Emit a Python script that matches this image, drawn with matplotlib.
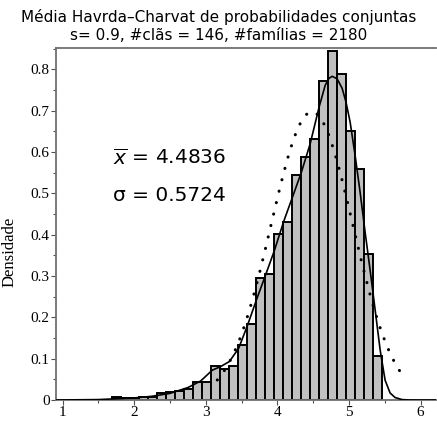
import numpy as np
import matplotlib
matplotlib.use("Agg")
import matplotlib.pyplot as plt
from matplotlib.ticker import MultipleLocator

# histogram: 30 bins of equal width between the first and last edge
bin_lo = 1.697
bin_hi = 5.463
dens = [0.008, 0.004, 0.004, 0.008, 0.008, 0.016, 0.020, 0.0225, 0.0266, 0.044,
        0.044, 0.082, 0.075, 0.082, 0.134, 0.184, 0.294, 0.305, 0.401, 0.4295,
        0.544, 0.587, 0.632, 0.771, 0.8435, 0.789, 0.650, 0.558, 0.353, 0.107]

# smoothed density (solid curve)
kx = [0.91, 1.5, 1.75, 2.0, 2.25, 2.5, 2.75, 2.93, 3.09, 3.21, 3.33, 3.46, 3.58,
      3.71, 3.835, 3.96, 4.087, 4.212, 4.338, 4.459, 4.584, 4.668, 4.72, 4.766,
      4.835, 4.905, 4.96, 5.017, 5.086, 5.156, 5.226, 5.296, 5.366, 5.436,
      5.505, 5.575, 5.644, 5.742, 5.85, 6.22]
ky = [0.0, 0.001, 0.003, 0.005, 0.009, 0.016, 0.030, 0.046, 0.072, 0.081, 0.093,
      0.125, 0.179, 0.243, 0.302, 0.362, 0.431, 0.491, 0.552, 0.620, 0.709,
      0.761, 0.778, 0.783, 0.777, 0.754, 0.720, 0.672, 0.592, 0.503, 0.406,
      0.314, 0.218, 0.121, 0.048, 0.017, 0.006, 0.001, 0.0, 0.0]

media = 4.4836
sigma = 0.5724
s_val = 0.9
n_clas = 146
n_fam = 2180

edges = np.linspace(bin_lo, bin_hi, len(dens) + 1)
width = edges[1] - edges[0]

fig = plt.figure(figsize=(4.37, 4.21), dpi=100)
ax = fig.add_axes([56/437, 21/421, 380/437, 352/421])

ax.bar(edges[:-1], dens, width=width, align='edge', color='#c0c0c0',
       edgecolor='black', linewidth=1.4, zorder=2)
ax.plot(kx, ky, color='black', linewidth=1.2, zorder=3)

# normal curve with the sample mean and standard deviation
xn = np.linspace(media - 2.31*sigma, media + 2.25*sigma, 200)
yn = np.exp(-0.5*((xn - media)/sigma)**2) / (sigma*np.sqrt(2*np.pi))
ax.plot(xn, yn, color='black', linewidth=2.2, linestyle=(0, (0.05, 3.8)),
        dash_capstyle='round', zorder=4)

ax.set_xlim(0.909, 6.216)
ax.set_ylim(0, 0.8515)

ax.xaxis.set_major_locator(MultipleLocator(1))
ax.xaxis.set_minor_locator(MultipleLocator(0.5))
ax.yaxis.set_major_locator(MultipleLocator(0.1))
ax.yaxis.set_minor_locator(MultipleLocator(0.05))
ax.set_yticks(np.arange(0, 0.81, 0.1))
ax.set_yticklabels(['0', '0.1', '0.2', '0.3', '0.4', '0.5', '0.6', '0.7', '0.8'])

for side in ['top', 'left', 'bottom']:
    ax.spines[side].set_color('#707070')
    ax.spines[side].set_linewidth(1.3)
ax.spines['right'].set_visible(False)

ax.tick_params(which='both', direction='out', color='#505050', width=0.8)
ax.tick_params(which='major', length=3.5, labelsize=11, pad=1)
ax.tick_params(which='minor', length=2)
for lab in ax.get_xticklabels() + ax.get_yticklabels():
    lab.set_family('Liberation Serif')

ax.set_ylabel('Densidade', family='Liberation Serif', fontsize=12)
ax.yaxis.set_label_coords(-0.1, 0.42)

fig.text(0.5, 0.978, 'Média Havrda–Charvat de probabilidades conjuntas',
         ha='center', va='top', fontsize=11)
fig.text(0.5, 0.933, f's= {s_val}, #clãs = {n_clas}, #famílias = {n_fam}',
         ha='center', va='top', fontsize=11)

ax.text(1.7, 0.568, r'$\overline{x}$' + f' = {media}', fontsize=14.5,
        ha='left', va='baseline')
ax.text(1.7, 0.482, f'σ = {sigma}', fontsize=14.5, ha='left', va='baseline')

fig.savefig('out.png', dpi=100)
